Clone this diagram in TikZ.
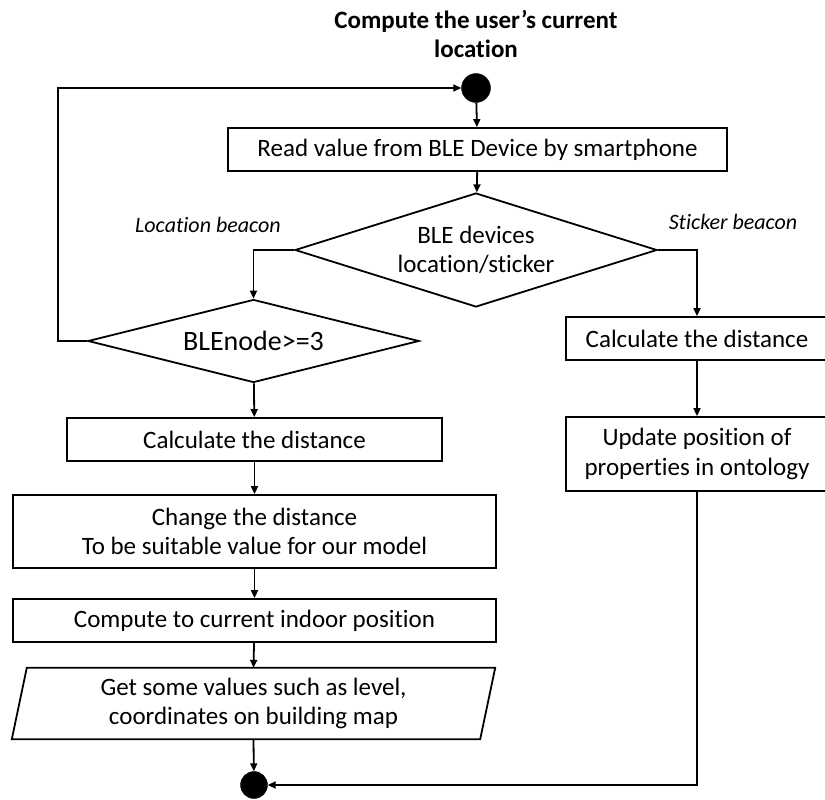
\documentclass[tikz,border=0pt]{standalone}
\usepackage{fontspec}
\setmainfont{Carlito}[Ligatures=NoCommon]
\usetikzlibrary{arrows.meta,shapes.geometric}
\begin{document}
\begin{tikzpicture}[x=1pt,y=-1pt,
  every node/.style={font=\fontsize{25}{29.5}\selectfont},
  flow/.style={draw, line width=1.8pt, inner sep=0pt, align=center, fill=white},
  box/.style={flow, rectangle},
  decision/.style={flow, diamond},
  dot/.style={circle, fill=black, draw=black, minimum size=29pt, inner sep=0pt},
  wire/.style={line width=1.8pt},
  link/.style={wire, -{Triangle[length=8pt,width=7pt]}},
  branch/.style={font=\fontsize{22}{26}\selectfont\itshape}
]
\useasboundingbox (0,0) rectangle (825,800);

% heading
\node[font=\fontsize{25}{29.5}\selectfont\bfseries, align=center] (title) at (476,34)
  {Compute the user’s current\\location};

% start and end points
\node[dot] (start) at (476,88) {};
\node[dot, minimum size=27pt] (stop) at (254,785) {};

% main steps
\node[box, minimum width=499pt, minimum height=43pt] (read) at (477.5,149.5)
  {Read value from BLE Device by smartphone};
\node[decision, aspect=3.18, minimum width=362pt, minimum height=114pt] (kind) at (476,250)
  {BLE devices\\location/sticker};

% location beacon branch
\node[decision, aspect=3.99, minimum width=331pt, minimum height=83pt,
      font=\fontsize{28}{32}\selectfont] (count) at (253.5,341)
  {BLEnode>=3};
\node[box, minimum width=375pt, minimum height=43pt] (distL) at (254.5,439.5)
  {Calculate the distance};
\node[box, minimum width=483pt, minimum height=73pt] (change) at (254.5,531.5)
  {Change the distance\\To be suitable value for our model};
\node[box, minimum width=483pt, minimum height=43pt] (indoor) at (254.5,620.5)
  {Compute to current indoor position};
\node[minimum width=468pt, minimum height=71pt, inner sep=0pt, align=center] (values) at (253.5,703.5)
  {Get some values such as level,\\coordinates on building map};
\draw[wire] ([xshift=-7.5pt]values.south west) -- ([xshift=7.5pt]values.north west)
  -- ([xshift=7.5pt]values.north east) -- ([xshift=-7.5pt]values.south east) -- cycle;

% sticker beacon branch
\node[box, minimum width=262pt, minimum height=43pt] (distR) at (697,338.5)
  {Calculate the distance};
\node[box, minimum width=262pt, minimum height=74pt] (update) at (697,454)
  {Update position of\\properties in ontology};

% branch labels
\node[branch] (locLabel) at (208,225) {Location beacon};
\node[branch] (stickLabel) at (733,222) {Sticker beacon};

% connectors
\coordinate (loop) at (58,341);
\draw[link] (start) -- (read);
\draw[link] (read) -- (kind);
\draw[link] (kind.west) -| (count.north);
\draw[link] (kind.east) -| (distR.north);
\draw[link] (count.west) -- (loop) |- (start.west);
\draw[link] (count) -- (distL);
\draw[link] (distL) -- (change);
\draw[link] (change) -- (indoor);
\draw[link] (indoor) -- (values.north);
\draw[link] (values.south) -- (stop);
\draw[link] (distR) -- (update);
\draw[link] (update.south) |- (stop.east);
\end{tikzpicture}
\end{document}
